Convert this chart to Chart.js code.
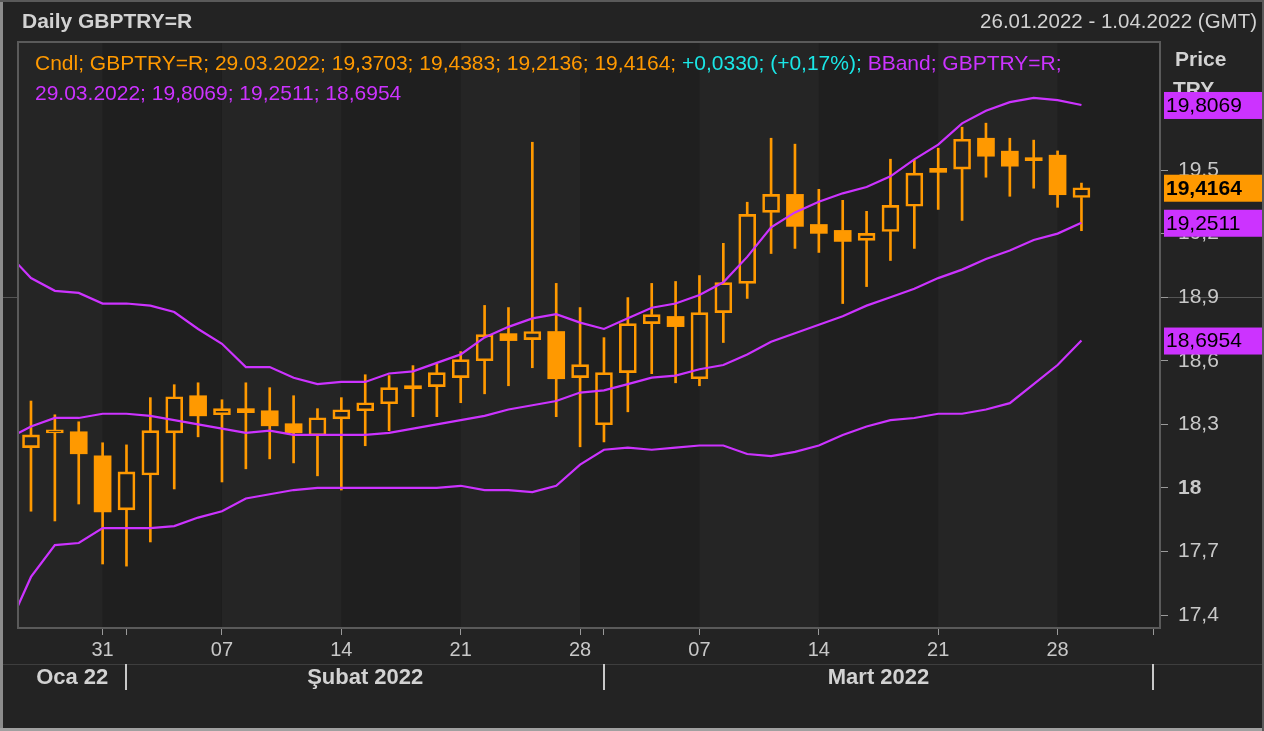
<!DOCTYPE html>
<html>
<head>
<meta charset="utf-8">
<script src="https://cdn.jsdelivr.net/npm/chart.js@4.4.1/dist/chart.umd.min.js"></script>
<style>
  html, body { margin: 0; padding: 0; background: #232323; }
  #wrap { width: 1264px; height: 731px; }
</style>
</head>
<body>
<div id="wrap"><canvas id="chart" width="1264" height="731"></canvas></div>
<script>
const W = 1264, H = 731;
const FONT = "'Liberation Sans', Arial, sans-serif";
const ORANGE = "#ff9900";
const MAG = "#cc33ff";
const CYAN = "#1ae6e6";

// trading days; index 0 is only used by the Bollinger bands (it lies left of the plot)
const bandDates = [
  "25.01.2022", "26.01.2022", "27.01.2022", "28.01.2022", "31.01.2022",
  "01.02.2022", "02.02.2022", "03.02.2022", "04.02.2022",
  "07.02.2022", "08.02.2022", "09.02.2022", "10.02.2022", "11.02.2022",
  "14.02.2022", "15.02.2022", "16.02.2022", "17.02.2022", "18.02.2022",
  "21.02.2022", "22.02.2022", "23.02.2022", "24.02.2022", "25.02.2022",
  "28.02.2022", "01.03.2022", "02.03.2022", "03.03.2022", "04.03.2022",
  "07.03.2022", "08.03.2022", "09.03.2022", "10.03.2022", "11.03.2022",
  "14.03.2022", "15.03.2022", "16.03.2022", "17.03.2022", "18.03.2022",
  "21.03.2022", "22.03.2022", "23.03.2022", "24.03.2022", "25.03.2022",
  "28.03.2022", "29.03.2022"
];
const dates = bandDates.slice(1);

const open = [18.19, 18.26, 18.265, 18.151, 17.896, 18.061, 18.26, 18.435, 18.345, 18.374,
  18.364, 18.303, 18.246, 18.326, 18.364, 18.397, 18.482, 18.478, 18.52, 18.6,
  18.728, 18.70, 18.738, 18.52, 18.298, 18.544, 18.775, 18.809, 18.515, 18.827,
  18.965, 19.30, 19.385, 19.243, 19.215, 19.168, 19.21, 19.329, 19.508, 19.504,
  19.65, 19.589, 19.548, 19.57, 19.3703];
const high = [18.41, 18.345, 18.312, 18.213, 18.203, 18.426, 18.487, 18.496, 18.416, 18.496,
  18.473, 18.435, 18.374, 18.426, 18.534, 18.53, 18.577, 18.586, 18.643, 18.861,
  18.851, 19.631, 18.965, 18.851, 18.709, 18.898, 18.965, 18.974, 19.002, 19.154,
  19.348, 19.65, 19.622, 19.409, 19.357, 19.305, 19.551, 19.546, 19.603, 19.702,
  19.721, 19.65, 19.641, 19.59, 19.4383];
const low = [17.89, 17.844, 17.924, 17.641, 17.631, 17.745, 17.995, 18.241, 18.028, 18.09,
  18.137, 18.118, 18.057, 17.99, 18.199, 18.27, 18.336, 18.336, 18.402, 18.444,
  18.482, 18.567, 18.336, 18.194, 18.217, 18.359, 18.539, 18.496, 18.482, 18.686,
  18.894, 19.106, 19.13, 19.111, 18.87, 18.95, 19.073, 19.13, 19.314, 19.262,
  19.466, 19.376, 19.414, 19.324, 19.2136];
const close = [18.25, 18.27, 18.161, 17.887, 18.076, 18.27, 18.43, 18.34, 18.374, 18.355,
  18.293, 18.26, 18.331, 18.369, 18.402, 18.473, 18.468, 18.544, 18.605, 18.723,
  18.695, 18.738, 18.515, 18.582, 18.544, 18.775, 18.818, 18.761, 18.827, 18.969,
  19.291, 19.385, 19.234, 19.201, 19.163, 19.201, 19.333, 19.485, 19.489, 19.645,
  19.565, 19.518, 19.544, 19.3834, 19.4164];

const bbUpper = [19.11, 18.99, 18.93, 18.92, 18.87, 18.87, 18.86, 18.83, 18.75, 18.68,
  18.57, 18.57, 18.52, 18.49, 18.50, 18.50, 18.54, 18.55, 18.59, 18.63,
  18.71, 18.76, 18.80, 18.82, 18.78, 18.75, 18.80, 18.85, 18.87, 18.91,
  18.97, 19.09, 19.23, 19.30, 19.35, 19.39, 19.42, 19.47, 19.55, 19.62,
  19.72, 19.78, 19.82, 19.84, 19.83, 19.8069];
const bbMiddle = [18.23, 18.29, 18.33, 18.33, 18.35, 18.35, 18.34, 18.32, 18.30, 18.28,
  18.26, 18.27, 18.25, 18.25, 18.25, 18.25, 18.26, 18.28, 18.30, 18.32,
  18.34, 18.37, 18.39, 18.41, 18.45, 18.46, 18.49, 18.52, 18.53, 18.56,
  18.58, 18.63, 18.69, 18.73, 18.77, 18.81, 18.86, 18.90, 18.94, 18.99,
  19.03, 19.08, 19.12, 19.17, 19.20, 19.2511];
const bbLower = [17.33, 17.58, 17.73, 17.74, 17.81, 17.81, 17.81, 17.82, 17.86, 17.89,
  17.95, 17.97, 17.99, 18.00, 18.00, 18.00, 18.00, 18.00, 18.00, 18.01,
  17.99, 17.99, 17.98, 18.01, 18.11, 18.18, 18.19, 18.18, 18.19, 18.20,
  18.20, 18.16, 18.15, 18.17, 18.20, 18.25, 18.29, 18.32, 18.33, 18.35,
  18.35, 18.37, 18.40, 18.49, 18.58, 18.6954];

const weekTickIdx = [4, 9, 14, 19, 24, 29, 34, 39, 44];
const weekTickLabels = ["31", "07", "14", "21", "28", "07", "14", "21", "28"];
const monthStartIdx = [5, 25, 48];
const monthLabels = ["Oca 22", "Şubat 2022", "Mart 2022"];
const yTicks = [17.4, 17.7, 18, 18.3, 18.6, 18.9, 19.2, 19.5];
const xRange = [0.456, 48.29];
const yRange = [17.339, 20.104];

const fmt = v => v.toFixed(4).replace(".", ",");
const n = close.length;
const idx = close.map((_, i) => i + 1);
const isUp = close.map((c, i) => c >= open[i]);
const bodyData = idx.map((x, i) => ({ x, y: [open[i], close[i]] }));
const wickHi = idx.map((x, i) => ({ x, y: [Math.max(open[i], close[i]), high[i]] }));
const wickLo = idx.map((x, i) => ({ x, y: [low[i], Math.min(open[i], close[i])] }));
const band = arr => arr.map((y, i) => ({ x: i, y }));

const lineDs = arr => ({
  type: "line", data: band(arr), borderColor: MAG, borderWidth: 2.2,
  pointRadius: 0, tension: 0, order: 0
});

const frame = {
  id: "frame",
  beforeDraw(chart) {
    const { ctx, chartArea: a, scales: { x, y } } = chart;
    ctx.save();
    ctx.fillStyle = "#232323";
    ctx.fillRect(0, 0, W, H);
    // weekly shading
    const edges = [x.min, ...weekTickIdx, x.max];
    for (let k = 0; k < edges.length - 1; k++) {
      const x0 = x.getPixelForValue(edges[k]);
      const x1 = x.getPixelForValue(edges[k + 1]);
      ctx.fillStyle = k % 2 === 0 ? "#252525" : "#1f1f1f";
      ctx.fillRect(x0, a.top, x1 - x0, a.bottom - a.top);
    }
    // line at 18,9 outside the plot
    const yl = Math.round(y.getPixelForValue(18.9)) + 0.5;
    ctx.strokeStyle = "#555";
    ctx.lineWidth = 1;
    ctx.beginPath();
    ctx.moveTo(0, yl); ctx.lineTo(a.left, yl);
    ctx.moveTo(a.right, yl); ctx.lineTo(W, yl);
    ctx.stroke();
    ctx.restore();
  },
  afterDraw(chart) {
    const { ctx, chartArea: a, scales: { x, y } } = chart;
    ctx.save();
    // plot frame
    ctx.strokeStyle = "#5a5a5a";
    ctx.lineWidth = 2;
    ctx.strokeRect(a.left, a.top, a.right - a.left, a.bottom - a.top);

    // header
    ctx.textBaseline = "alphabetic";
    ctx.fillStyle = "#d2d2d2";
    ctx.font = "bold 21px " + FONT;
    ctx.textAlign = "left";
    ctx.fillText("Daily GBPTRY=R", 22, 28);
    ctx.font = "20.5px " + FONT;
    ctx.textAlign = "right";
    ctx.fillText("26.01.2022 - 1.04.2022 (GMT)", 1257, 28);

    // legend text
    ctx.textAlign = "left";
    ctx.font = "21px " + FONT;
    const last = n - 1;
    const chg = close[last] - close[last - 1];
    const pct = chg / close[last - 1] * 100;
    const sign = chg >= 0 ? "+" : "-";
    const segs = [
      ["Cndl; GBPTRY=R; " + dates[last] + "; " + fmt(open[last]) + "; " + fmt(high[last]) + "; " +
        fmt(low[last]) + "; " + fmt(close[last]) + "; ", ORANGE],
      [sign + fmt(Math.abs(chg)) + "; (" + sign + Math.abs(pct).toFixed(2).replace(".", ",") + "%);", CYAN],
      [" BBand; GBPTRY=R;", MAG]
    ];
    let tx = 35;
    for (const [t, c] of segs) {
      ctx.fillStyle = c;
      ctx.fillText(t, tx, 70);
      tx += ctx.measureText(t).width;
    }
    const bl = bbUpper.length - 1;
    ctx.fillStyle = MAG;
    ctx.fillText(dates[last] + "; " + fmt(bbUpper[bl]) + "; " + fmt(bbMiddle[bl]) + "; " + fmt(bbLower[bl]), 35, 100);

    // axis title
    ctx.fillStyle = "#d2d2d2";
    ctx.font = "bold 21px " + FONT;
    ctx.fillText("Price", 1175, 66);
    ctx.fillText("TRY", 1173, 96);

    // last value boxes
    const boxes = [
      [bbUpper[bl], MAG, false],
      [close[last], ORANGE, true],
      [bbMiddle[bl], MAG, false],
      [bbLower[bl], MAG, false]
    ];
    ctx.textBaseline = "middle";
    for (const [v, c, b] of boxes) {
      const py = y.getPixelForValue(v);
      ctx.fillStyle = c;
      ctx.fillRect(1164, py - 13, 98, 27);
      ctx.fillStyle = "#000";
      ctx.font = (b ? "bold " : "") + "21px " + FONT;
      ctx.fillText(fmt(v), 1166, py + 1);
    }

    // month row
    ctx.strokeStyle = "#3e3e3e";
    ctx.lineWidth = 1;
    ctx.beginPath();
    ctx.moveTo(0, 664.5); ctx.lineTo(W, 664.5);
    ctx.stroke();
    const mx = monthStartIdx.map(v => x.getPixelForValue(v));
    ctx.strokeStyle = "#c8c8c8";
    ctx.lineWidth = 2;
    ctx.beginPath();
    for (const p of mx) {
      ctx.moveTo(Math.round(p), 664); ctx.lineTo(Math.round(p), 690);
    }
    ctx.stroke();
    const bounds = [a.left, ...mx];
    ctx.fillStyle = "#d2d2d2";
    ctx.font = "bold 22px " + FONT;
    ctx.textAlign = "center";
    for (let k = 0; k < monthLabels.length; k++) {
      ctx.fillText(monthLabels[k], (bounds[k] + bounds[k + 1]) / 2, 678);
    }

    // outer border
    ctx.fillStyle = "#8c8c8c";
    ctx.fillRect(0, 0, 3, H);
    ctx.fillStyle = "#a0a0a0";
    ctx.fillRect(0, H - 3, W, 3);
    ctx.fillStyle = "#5a5a5a";
    ctx.fillRect(0, 0, W, 2);
    ctx.fillRect(W - 2, 0, 2, H);
    ctx.restore();
  }
};

new Chart(document.getElementById("chart"), {
  type: "bar",
  data: {
    datasets: [
      lineDs(bbUpper),
      lineDs(bbMiddle),
      lineDs(bbLower),
      { data: wickHi, backgroundColor: ORANGE, barThickness: 2, grouped: false, order: 2 },
      { data: wickLo, backgroundColor: ORANGE, barThickness: 2, grouped: false, order: 2 },
      {
        data: bodyData,
        backgroundColor: isUp.map(u => u ? "rgba(0,0,0,0)" : ORANGE),
        borderColor: ORANGE,
        borderWidth: isUp.map(u => u ? 2 : 0),
        borderSkipped: false,
        barThickness: 17,
        minBarLength: 3,
        grouped: false,
        order: 1
      }
    ]
  },
  options: {
    responsive: false,
    animation: false,
    devicePixelRatio: 1,
    layout: { padding: { left: 18, top: 42, right: 0, bottom: 0 } },
    plugins: { legend: { display: false }, tooltip: { enabled: false } },
    scales: {
      x: {
        type: "linear",
        min: xRange[0],
        max: xRange[1],
        offset: false,
        afterBuildTicks: s => {
          s.ticks = [...weekTickIdx, ...monthStartIdx].sort((p, q) => p - q).map(v => ({ value: v }));
        },
        afterFit: s => { s.height = 103; },
        grid: { offset: false, drawOnChartArea: false, drawTicks: true, tickLength: 7, color: "#9a9a9a" },
        border: { display: false },
        ticks: {
          autoSkip: false,
          maxRotation: 0,
          padding: 3,
          color: "#c8c8c8",
          font: { family: FONT, size: 20 },
          callback: v => {
            const k = weekTickIdx.indexOf(v);
            return k >= 0 ? weekTickLabels[k] : "";
          }
        }
      },
      y: {
        position: "right",
        min: yRange[0],
        max: yRange[1],
        afterBuildTicks: s => { s.ticks = yTicks.map(v => ({ value: v })); },
        afterFit: s => { s.width = 104; },
        grid: { drawOnChartArea: false, drawTicks: true, tickLength: 8, color: "#9a9a9a" },
        border: { display: false },
        ticks: {
          padding: 10,
          color: "#c8c8c8",
          font: c => ({ family: FONT, size: 21, weight: c.tick && c.tick.value === 18 ? "bold" : "normal" }),
          callback: v => v === 18 ? "18" : v.toFixed(1).replace(".", ",")
        }
      }
    }
  },
  plugins: [frame]
});
</script>
</body>
</html>
